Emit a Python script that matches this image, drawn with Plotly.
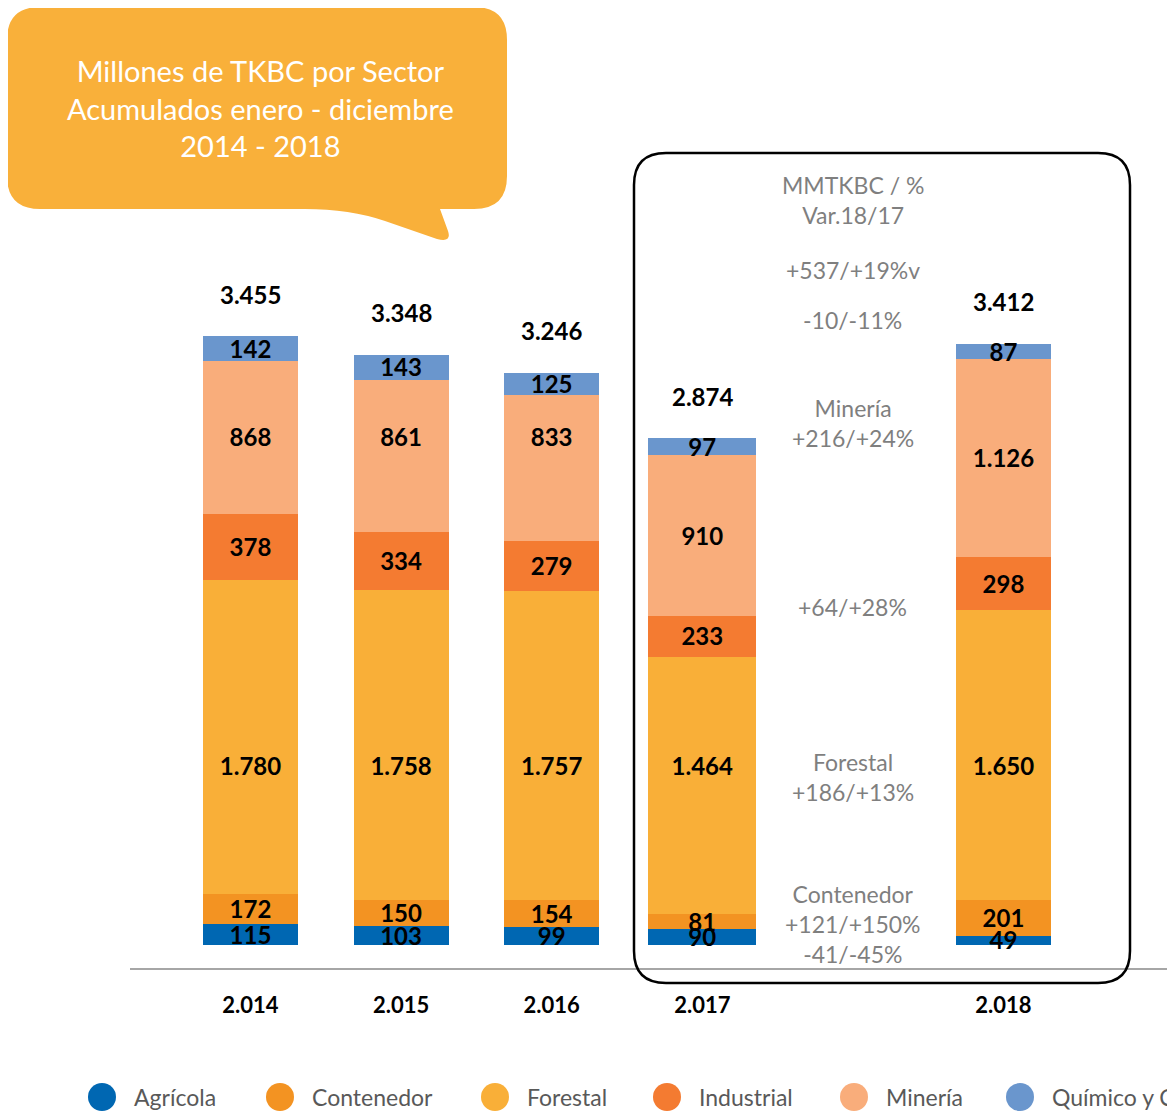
import plotly.graph_objects as go

# ---------------- data ----------------
years = ["2.014", "2.015", "2.016", "2.017", "2.018"]
sectors = ["Agrícola", "Contenedor", "Forestal", "Industrial", "Minería", "Químico y Celulosa"]
agricola = [115, 103, 99, 90, 49]
contenedor = [172, 150, 154, 81, 201]
forestal = [1780, 1758, 1757, 1464, 1650]
industrial = [378, 334, 279, 233, 298]
mineria = [868, 861, 833, 910, 1126]
quimico = [142, 143, 125, 97, 87]
totals = [3455, 3348, 3246, 2874, 3412]
title_lines = ["Millones de TKBC por Sector", "Acumulados enero - diciembre", "2014 - 2018"]
var_notes = ["MMTKBC / %<br>Var.18/17", "+537/+19%v", "-10/-11%", "Minería<br>+216/+24%",
             "+64/+28%", "Forestal<br>+186/+13%", "Contenedor<br>+121/+150%<br>-41/-45%"]

# ---------------- style / layout ----------------
colors = ["#0067B2", "#F39322", "#F9AF38", "#F47B31", "#F9AD7B", "#6A96CD"]
series = [agricola, contenedor, forestal, industrial, mineria, quimico]
spacer = " "
cat_order = ["2.014", "2.015", "2.016", "2.017", spacer, "2.018"]
bar_widths = [0.63, 0.63, 0.63, 0.72, 0.63]
# label rows that were aligned by hand in the original (value units, None = centred)
label_rows = {"Forestal": [1013, 1013, 1013, 1013, 1013],
              "Minería": [2881, 2881, 2881, None, None]}
LABEL_DY = -18               # small downward nudge of segment labels (value units)
FONT = "Lato"

OFF = 8                      # page margin of the browser body
W, H = 1175 - OFF, 1112 - OFF
ML, MT, MB, MR = 122, 0, 144, 0
PW, PH = W - ML - MR, H - MT - MB


def px(rx):
    """reference-picture x pixel -> paper coordinate"""
    return (rx - OFF - ML) / PW


def py(ry):
    """reference-picture y pixel -> paper coordinate"""
    return (H - MB - (ry - OFF)) / PH


def fmt(v):
    return f"{v:,}".replace(",", ".")


fig = go.Figure()
for name, vals, col in zip(sectors, series, colors):
    fig.add_trace(go.Bar(
        x=years, y=vals, name=name, width=bar_widths,
        marker=dict(color=col, line=dict(width=0)),
        hoverinfo="skip", showlegend=False,
    ))

# segment value labels (drawn on top of all bars)
lab_x, lab_y, lab_t = [], [], []
base = [0] * len(years)
for name, vals in zip(sectors, series):
    rows = label_rows.get(name, [None] * len(years))
    for i, v in enumerate(vals):
        yy = rows[i] if rows[i] is not None else base[i] + v / 2
        lab_x.append(years[i])
        lab_y.append(yy + LABEL_DY)
        lab_t.append(fmt(v))
        base[i] += v
fig.add_trace(go.Scatter(
    x=lab_x, y=lab_y, text=lab_t, mode="text", textposition="middle center",
    textfont=dict(family=FONT, size=24, color="black", weight="bold"),
    hoverinfo="skip", showlegend=False, cliponaxis=False))

annotations = []
# totals above bars
for yr, tot in zip(years, totals):
    annotations.append(dict(
        x=cat_order.index(yr), y=tot, xref="x", yref="y", yshift=42,
        text=fmt(tot), showarrow=False,
        font=dict(family=FONT, size=24, color="black", weight="bold"),
        xanchor="center", yanchor="middle"))

# variation notes in the spacer column
note_y = [200, 270, 320, 423, 607, 777, 924]
for txt, yy in zip(var_notes, note_y):
    annotations.append(dict(
        x=cat_order.index(spacer), y=py(yy), xref="x", yref="paper",
        text=txt, showarrow=False, align="center",
        font=dict(family=FONT, size=23, color="#7F7F7F"),
        xanchor="center", yanchor="middle"))

# title in bubble
annotations.append(dict(
    x=px(260), y=py(108), xref="paper", yref="paper",
    text="<br>".join(title_lines), showarrow=False, align="center",
    font=dict(family=FONT, size=29, color="white"),
    xanchor="center", yanchor="middle"))

shapes = []


def path_from(pts):
    s = ""
    for cmd, coords in pts:
        s += cmd + " " + " ".join(f"{px(a):.5f},{py(b):.5f}" for a, b in coords) + " "
    return s + "Z"


def rr_path(x0, y0, x1, y1, r):
    return path_from([
        ("M", [(x0 + r, y0)]),
        ("L", [(x1 - r, y0)]),
        ("Q", [(x1, y0), (x1, y0 + r)]),
        ("L", [(x1, y1 - r)]),
        ("Q", [(x1, y1), (x1 - r, y1)]),
        ("L", [(x0 + r, y1)]),
        ("Q", [(x0, y1), (x0, y1 - r)]),
        ("L", [(x0, y0 + r)]),
        ("Q", [(x0, y0), (x0 + r, y0)]),
    ])


# speech bubble
bub = [
    ("M", [(40, 7)]),
    ("L", [(474, 7)]),
    ("Q", [(507, 7), (507, 40)]),
    ("L", [(507, 176)]),
    ("Q", [(507, 209), (474, 209)]),
    ("L", [(440, 209)]),
    ("L", [(448, 231)]),
    ("Q", [(452, 243), (437, 239)]),
    ("L", [(385, 221)]),
    ("Q", [(350, 209), (305, 209)]),
    ("L", [(40, 209)]),
    ("Q", [(7, 209), (7, 176)]),
    ("L", [(7, 40)]),
    ("Q", [(7, 7), (40, 7)]),
]
shapes.append(dict(type="path", xref="paper", yref="paper", path=path_from(bub),
                   fillcolor="#F9B03A", line=dict(width=0), layer="below"))

# rounded box around the 2017-2018 comparison
shapes.append(dict(type="path", xref="paper", yref="paper",
                   path=rr_path(634, 153, 1130, 983, 32),
                   fillcolor="rgba(0,0,0,0)", line=dict(color="black", width=2.5), layer="above"))

# custom legend (circles + labels)
leg_cx = [102, 280, 495, 667, 854, 1020]
leg_cy = 1097
for name, col, cx in zip(sectors, colors, leg_cx):
    shapes.append(dict(type="circle", xref="paper", yref="paper",
                       xsizemode="pixel", ysizemode="pixel",
                       xanchor=px(cx), yanchor=py(leg_cy),
                       x0=-14, x1=14, y0=-14, y1=14,
                       fillcolor=col, line=dict(width=0)))
    annotations.append(dict(
        x=px(cx + 30), y=py(leg_cy), xref="paper", yref="paper",
        text=name, showarrow=False,
        font=dict(family=FONT, size=23, color="#595959"),
        xanchor="left", yanchor="middle"))

fig.update_layout(
    width=W, height=H, barmode="stack", separators=",.",
    margin=dict(l=ML, r=MR, t=MT, b=MB, pad=0),
    paper_bgcolor="white", plot_bgcolor="white",
    showlegend=False,
    xaxis=dict(type="category", categoryorder="array", categoryarray=cat_order,
               range=[-0.80, 6.139], showgrid=False, zeroline=False,
               showline=True, linecolor="#A6A6A6", linewidth=2,
               ticks="outside", ticklen=17, tickcolor="rgba(0,0,0,0)",
               tickfont=dict(family=FONT, size=22, color="black", weight="bold")),
    yaxis=dict(range=[-133.4, 5317.4], visible=False, showgrid=False, zeroline=False),
    annotations=annotations, shapes=shapes,
    font=dict(family=FONT),
)

fig.write_html("out.html")
